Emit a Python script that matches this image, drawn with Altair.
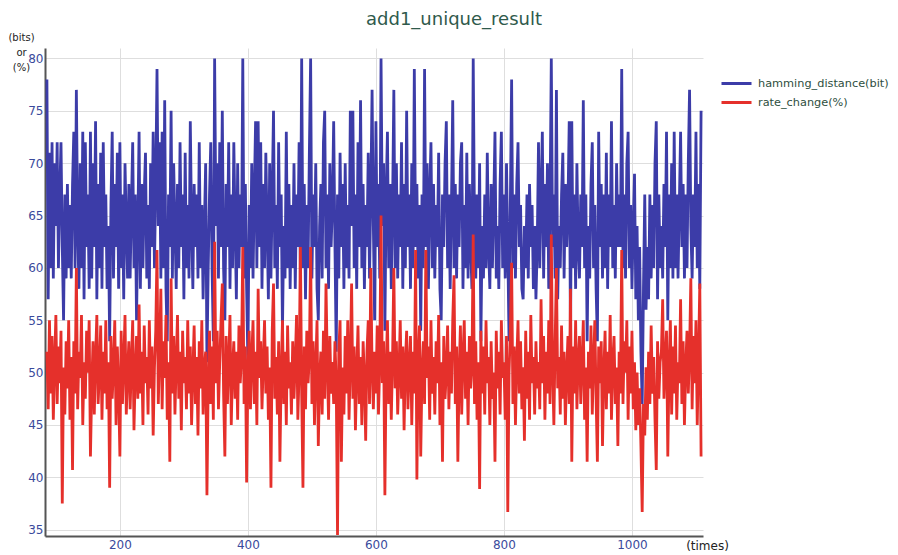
import altair as alt
import pandas as pd

# x positions (times) of the samples
times = list(range(86, 1110, 2))

# hamming_distance(bit), 32 samples per row
hamming_distance = [
    78, 57, 71, 60, 72, 59, 70, 64, 72, 60, 67, 72, 62, 55, 67, 59, 68, 60, 66, 59, 68, 73, 60, 77, 64, 58, 70, 60, 73, 57, 72, 62,
    67, 58, 73, 59, 70, 62, 74, 57, 68, 60, 71, 58, 72, 62, 67, 58, 64, 53, 66, 73, 59, 68, 62, 71, 58, 72, 60, 67, 57, 70, 64, 59,
    68, 59, 66, 72, 60, 67, 55, 64, 73, 58, 68, 60, 67, 71, 59, 66, 58, 70, 62, 73, 60, 68, 79, 64, 72, 59, 73, 60, 76, 58, 53, 67,
    62, 75, 59, 70, 64, 58, 68, 60, 72, 62, 67, 57, 71, 60, 66, 59, 74, 64, 58, 68, 62, 67, 59, 72, 60, 66, 57, 64, 70, 51, 60, 67,
    72, 60, 53, 80, 64, 70, 59, 72, 62, 75, 60, 55, 68, 62, 72, 58, 67, 60, 72, 64, 57, 70, 60, 67, 62, 80, 59, 68, 58, 51, 66, 60,
    70, 59, 67, 74, 60, 74, 62, 72, 58, 68, 60, 71, 64, 57, 70, 59, 67, 75, 60, 66, 58, 72, 62, 67, 54, 64, 59, 73, 60, 68, 58, 66,
    60, 70, 58, 67, 62, 72, 59, 80, 60, 68, 57, 66, 60, 71, 80, 59, 67, 62, 70, 58, 55, 64, 68, 59, 72, 75, 60, 67, 58, 70, 62, 66,
    74, 62, 52, 67, 59, 71, 62, 68, 58, 70, 60, 66, 59, 75, 64, 75, 60, 67, 58, 72, 62, 76, 60, 68, 58, 66, 62, 71, 59, 67, 77, 64,
    55, 74, 62, 68, 59, 80, 64, 70, 54, 67, 73, 60, 68, 58, 66, 77, 60, 70, 59, 67, 62, 72, 58, 68, 60, 75, 62, 67, 58, 70, 60, 79,
    62, 68, 59, 66, 54, 67, 60, 79, 62, 70, 58, 67, 72, 60, 68, 59, 66, 62, 71, 58, 55, 67, 62, 70, 74, 60, 67, 58, 66, 76, 60, 68,
    59, 67, 62, 70, 72, 58, 66, 60, 71, 59, 68, 62, 58, 80, 64, 59, 67, 60, 70, 53, 64, 59, 67, 60, 71, 62, 58, 68, 60, 66, 73, 59,
    64, 58, 68, 73, 60, 67, 59, 70, 62, 53, 66, 78, 60, 67, 59, 68, 72, 62, 66, 58, 57, 64, 60, 67, 59, 68, 62, 66, 58, 64, 57, 62,
    72, 60, 67, 73, 59, 68, 62, 70, 58, 66, 80, 62, 67, 59, 77, 57, 64, 60, 67, 71, 59, 68, 62, 66, 74, 53, 74, 60, 67, 58, 70, 62,
    59, 67, 62, 76, 60, 67, 53, 64, 59, 68, 72, 60, 66, 58, 53, 73, 62, 68, 59, 67, 60, 71, 58, 67, 62, 74, 60, 66, 59, 70, 62, 67,
    62, 79, 60, 67, 59, 70, 73, 60, 66, 58, 64, 69, 57, 64, 55, 62, 52, 47, 58, 67, 56, 62, 57, 67, 59, 66, 60, 70, 74, 57, 67, 60,
    64, 59, 68, 62, 73, 55, 67, 60, 70, 59, 73, 60, 67, 59, 66, 73, 62, 68, 59, 67, 60, 70, 77, 64, 59, 67, 62, 73, 60, 68, 58, 75,
]

# rate_change(%), 32 samples per row
rate_change = [
    52.0, 46.5, 55.0, 48.0, 53.5, 45.5, 51.0, 55.5, 47.0, 52.5, 49.0, 54.0, 37.5, 50.5, 46.0, 53.0, 48.5, 55.0, 45.5, 51.5, 40.7, 53.0, 48.0, 60.0, 46.5, 52.0, 49.5, 55.5, 45.0, 51.0, 47.5, 54.0,
    50.0, 55.0, 42.0, 48.5, 53.0, 46.0, 51.5, 55.5, 47.0, 50.0, 54.5, 45.5, 52.0, 48.0, 55.0, 46.5, 51.0, 39.0, 53.5, 47.5, 50.5, 55.0, 45.0, 52.5, 48.5, 42.0, 54.0, 47.0, 51.0, 55.5, 46.0, 50.0,
    53.0, 46.5, 51.0, 55.0, 44.5, 50.0, 53.5, 47.5, 56.5, 48.0, 52.0, 45.0, 54.5, 49.0, 51.5, 46.0, 55.0, 48.5, 52.5, 44.0, 50.5, 54.0, 61.7, 47.0, 52.0, 58.0, 46.5, 53.0, 49.5, 55.5, 45.5, 51.0,
    41.5, 59.0, 48.0, 53.5, 46.0, 51.0, 55.5, 47.5, 52.0, 44.5, 54.0, 49.0, 51.5, 46.5, 55.0, 48.0, 52.5, 45.0, 50.0, 54.5, 47.0, 51.5, 44.0, 53.0, 48.5, 55.0, 46.0, 50.5, 52.0, 38.3, 49.0, 54.0,
    47.0, 52.5, 45.5, 62.5, 49.0, 54.0, 46.5, 51.0, 55.0, 58.5, 48.0, 42.0, 53.5, 47.0, 51.0, 55.5, 45.0, 50.5, 53.0, 47.5, 52.0, 45.5, 54.5, 49.0, 51.5, 62.0, 47.0, 52.5, 39.5, 50.0, 54.0, 46.5,
    51.5, 55.0, 47.0, 52.0, 45.0, 58.0, 49.5, 53.0, 46.5, 51.0, 55.0, 48.0, 52.5, 45.5, 50.5, 39.0, 54.0, 58.5, 47.5, 51.5, 46.0, 53.0, 41.5, 50.0, 55.0, 47.0, 52.0, 45.0, 54.5, 48.5, 51.0, 46.0,
    53.0, 47.5, 51.0, 55.5, 45.5, 50.0, 62.0, 48.0, 39.0, 52.5, 46.5, 54.0, 49.0, 51.5, 62.0, 47.0, 53.0, 45.0, 50.5, 55.0, 43.0, 49.5, 52.0, 46.0, 54.0, 47.5, 58.5, 51.0, 45.5, 53.5, 48.0, 51.0,
    47.0, 53.0, 49.0, 34.5, 52.0, 55.0, 41.5, 50.5, 46.0, 53.5, 48.0, 55.0, 45.5, 51.0, 58.5, 47.5, 52.5, 44.5, 50.0, 54.5, 47.0, 51.5, 45.0, 53.0, 49.5, 43.5, 52.0, 55.0, 47.0, 60.0, 50.5, 46.5,
    52.0, 48.0, 54.5, 46.0, 51.0, 65.0, 49.0, 53.0, 38.3, 50.5, 55.0, 47.0, 52.0, 45.5, 51.5, 60.0, 48.5, 53.0, 46.0, 50.0, 55.0, 47.5, 52.5, 44.5, 51.0, 54.0, 46.5, 50.5, 53.5, 45.0, 52.0, 48.0,
    61.7, 39.8, 51.0, 54.5, 42.0, 50.0, 53.0, 47.0, 61.7, 49.5, 52.5, 45.5, 55.0, 48.0, 51.5, 46.0, 53.0, 49.0, 55.5, 45.0, 51.0, 41.5, 53.5, 47.5, 50.0, 54.5, 46.5, 52.0, 48.0, 55.0, 59.3, 47.0,
    52.5, 41.5, 50.0, 54.5, 46.0, 51.5, 55.0, 47.5, 52.0, 45.0, 53.5, 48.5, 50.5, 63.2, 47.0, 53.0, 45.5, 51.0, 38.9, 54.0, 48.0, 52.5, 46.0, 55.0, 49.0, 51.5, 45.0, 53.0, 47.5, 50.0, 41.5, 54.0,
    48.5, 52.0, 46.0, 55.0, 49.5, 51.0, 45.5, 53.5, 36.7, 50.0, 54.0, 60.5, 47.0, 52.5, 45.0, 51.0, 55.0, 48.0, 53.0, 46.5, 50.5, 43.5, 54.0, 47.5, 52.0, 45.5, 55.5, 49.0, 51.5, 46.0, 53.0, 48.5,
    51.0, 46.5, 57.0, 49.0, 53.5, 45.5, 52.0, 48.0, 55.0, 47.0, 63.2, 50.5, 45.0, 53.0, 60.0, 48.5, 51.5, 46.0, 54.5, 47.5, 52.0, 45.0, 50.0, 53.5, 47.0, 58.0, 41.5, 52.5, 48.0, 55.0, 46.5, 51.0,
    53.5, 47.0, 51.0, 55.0, 45.5, 50.5, 41.5, 52.0, 48.5, 54.5, 46.0, 51.0, 55.0, 47.5, 41.5, 52.5, 49.0, 53.0, 43.0, 50.0, 54.0, 46.5, 52.0, 48.0, 55.5, 45.5, 51.0, 53.5, 47.0, 50.5, 43.0, 52.0,
    48.0, 61.7, 47.0, 53.0, 50.0, 55.0, 45.5, 52.5, 48.0, 54.0, 46.5, 51.0, 44.5, 50.0, 45.0, 48.5, 43.0, 36.7, 47.0, 44.0, 50.5, 45.5, 52.0, 47.0, 54.5, 48.0, 51.5, 45.5, 40.7, 53.0, 47.5, 51.0,
    52.0, 57.0, 47.5, 51.0, 54.0, 42.0, 50.5, 55.0, 46.0, 52.5, 48.0, 54.5, 45.5, 51.0, 49.0, 57.0, 47.0, 53.0, 45.0, 50.5, 54.0, 48.0, 52.0, 59.0, 46.5, 53.5, 49.0, 55.0, 45.0, 51.5, 58.5, 42.0,
]

series_names = ["hamming_distance(bit)", "rate_change(%)"]
series_colors = ["#3c3ca8", "#e5302b"]
x_ticks = [200, 400, 600, 800, 1000]
y_ticks = [35, 40, 45, 50, 55, 60, 65, 70, 75, 80]

n = min(len(times), len(hamming_distance), len(rate_change))
df = pd.concat([
    pd.DataFrame({"times": times[:n], "value": hamming_distance[:n], "series": series_names[0], "order": 0}),
    pd.DataFrame({"times": times[:n], "value": rate_change[:n], "series": series_names[1], "order": 1}),
])

FONT = "DejaVu Sans"
LABEL_COLOR = "#3a4a9c"

chart = alt.Chart(df).mark_line(strokeWidth=2.8).encode(
    x=alt.X("times:Q",
            scale=alt.Scale(domain=[83, 1111], nice=False, zero=False),
            axis=alt.Axis(values=x_ticks, format="d", title="(times)", titleX=662, titleY=9,
                          titleAlign="center", titleBaseline="middle",
                          titleFontWeight="normal", titleFontSize=12, titleFont=FONT,
                          titleColor="#222222", ticks=False, labelPadding=3,
                          labelColor=LABEL_COLOR, labelFontSize=12, labelFont=FONT,
                          domainColor="#555555", domainWidth=2,
                          gridColor="#dedede", gridWidth=1)),
    y=alt.Y("value:Q",
            scale=alt.Scale(domain=[34.4, 81.0], nice=False, zero=False),
            axis=alt.Axis(values=y_ticks, title=["(bits)", "or", "(%)"], titleAngle=0,
                          titleX=-24, titleY=-16, titleAlign="center", titleBaseline="top",
                          titleLineHeight=15, titleFontWeight="normal", titleFontSize=10,
                          titleFont=FONT, titleColor="#222222", ticks=False, labelPadding=2,
                          labelColor=LABEL_COLOR, labelFontSize=12, labelFont=FONT,
                          domainColor="#555555", domainWidth=2,
                          gridColor="#dedede", gridWidth=1)),
    color=alt.Color("series:N",
                    scale=alt.Scale(domain=series_names, range=series_colors),
                    legend=alt.Legend(orient="none", legendX=675, legendY=28, title=None,
                                      symbolType="stroke", symbolSize=900, symbolStrokeWidth=3,
                                      clipHeight=15,
                                      labelFontSize=11.3, labelFont=FONT, labelColor="#2e4e3e",
                                      rowPadding=4, labelOffset=5, padding=0)),
    order=alt.Order("order:Q"),
).properties(
    width=658,
    height=488,
    title=alt.TitleParams("add1_unique_result", anchor="middle", dx=80, dy=7, fontSize=18,
                          font=FONT, fontWeight="normal", color="#2f5a4c", offset=10),
    autosize=alt.AutoSizeParams(type="none"),
    padding={"left": 37, "top": 40, "right": 187, "bottom": 19},
).configure_view(stroke=None)

chart.save("out.html", embed_options={"renderer": "svg", "actions": False})
